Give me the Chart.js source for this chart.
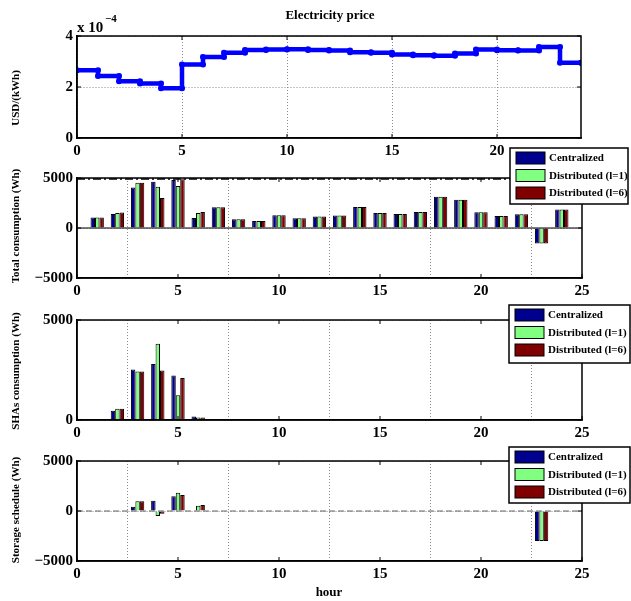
<!DOCTYPE html>
<html lang="en">
<head>
<meta charset="UTF-8">
<title>Electricity price</title>
<script src="https://cdn.jsdelivr.net/npm/chart.js"></script>
<style>
    body { margin: 0; background: #fff; width: 631px; height: 601px; position: relative; overflow: hidden; }
    canvas { position: absolute; left: 0; }
</style>
</head>
<body>
<canvas id="c1" width="631" height="160" style="top:0px"></canvas>
<canvas id="c2" width="631" height="160" style="top:140px"></canvas>
<canvas id="c3" width="631" height="142" style="top:300px"></canvas>
<canvas id="c4" width="631" height="159" style="top:442px"></canvas>
<script>
// price per hour, in 1e-4 USD/kWh (hour 0..24)
const priceHours = [0, 1, 2, 3, 4, 5, 6, 7, 8, 9, 10, 11, 12, 13, 14, 15, 16, 17, 18, 19, 20, 21, 22, 23, 24];
const price = [2.66, 2.43, 2.23, 2.14, 1.95, 2.88, 3.18, 3.34, 3.45, 3.47, 3.48, 3.45, 3.43, 3.36, 3.34, 3.27, 3.25, 3.23, 3.31, 3.47, 3.44, 3.43, 3.57, 2.95, 2.95];
const priceXTicks = [0, 5, 10, 15, 20];
const priceYTicks = [0, 2, 4];

// consumption per hour (Wh), hour 1..24
const hours = [1, 2, 3, 4, 5, 6, 7, 8, 9, 10, 11, 12, 13, 14, 15, 16, 17, 18, 19, 20, 21, 22, 23, 24];
const seriesNames = ['Centralized', 'Distributed (l=1)', 'Distributed (l=6)'];

const totalC  = [1050, 1410, 4060, 4630, 4800, 1010, 2080, 870, 700, 1280, 970, 1140, 1240, 2110, 1510, 1410, 1610, 3120, 2820, 1580, 1210, 1380, -1540, 1850];
const totalD1 = [1050, 1510, 4530, 4130, 4200, 1510, 2080, 870, 700, 1280, 970, 1140, 1240, 2110, 1510, 1410, 1610, 3120, 2820, 1580, 1210, 1380, -1540, 1850];
const totalD6 = [1050, 1540, 4530, 2990, 4870, 1610, 2080, 870, 700, 1280, 970, 1140, 1240, 2110, 1510, 1410, 1610, 3120, 2820, 1580, 1210, 1380, -1540, 1850];
const totalLimit = 4900;

const shaC  = [25, 460, 2530, 2800, 2220, 170, 0, 0, 0, 0, 0, 0, 0, 0, 0, 0, 0, 0, 0, 0, 0, 0, 0, 0];
const shaD1 = [25, 560, 2430, 3810, 1240, 120, 0, 0, 0, 0, 0, 0, 0, 0, 0, 0, 0, 0, 0, 0, 0, 0, 0, 0];
const shaD6 = [25, 560, 2420, 2470, 2100, 120, 0, 0, 0, 0, 0, 0, 0, 0, 0, 0, 0, 0, 0, 0, 0, 0, 0, 0];

const storC  = [0, 0, 430, 1030, 1470, 0, 0, 0, 0, 0, 0, 0, 0, 0, 0, 0, 0, 0, 0, 0, 0, 0, -3000, 0];
const storD1 = [0, 0, 970, -500, 1830, 530, 0, 0, 0, 0, 0, 0, 0, 0, 0, 0, 0, 0, 0, 0, 0, 0, -3000, 0];
const storD6 = [0, 0, 970, -270, 1600, 600, 0, 0, 0, 0, 0, 0, 0, 0, 0, 0, 0, 0, 0, 0, 0, 0, -3000, 0];

const xTicks = [0, 5, 10, 15, 20, 25];
const wideYTicks = [-5000, 0, 5000];
const shaYTicks = [0, 5000];

const barColors = ['#00008f', '#80ff80', '#800000'];
const FONT = "'Liberation Serif', 'Times New Roman', serif";
const tickFont = { family: FONT, size: 15, weight: 'bold' };

// frame, inner tick marks, baseline, legend box and labels (matlab look)
const matlabFrame = {
    id: 'matlabFrame',
    afterDatasetsDraw(chart, args, opts) {
        const a = chart.chartArea, ctx = chart.ctx;
        const sx = chart.scales.x, sy = chart.scales.y;
        ctx.save();
        if (opts.baseline) {
            const y0 = sy.getPixelForValue(0);
            ctx.strokeStyle = opts.baseline.color;
            ctx.lineWidth = opts.baseline.width;
            ctx.setLineDash(opts.baseline.dash);
            ctx.beginPath();
            ctx.moveTo(a.left, y0);
            ctx.lineTo(a.right, y0);
            ctx.stroke();
        }
        ctx.setLineDash([]);
        ctx.strokeStyle = '#000';
        ctx.lineWidth = 1;
        ctx.beginPath();
        sx.ticks.forEach(t => {
            const px = sx.getPixelForValue(t.value);
            ctx.moveTo(px, a.bottom); ctx.lineTo(px, a.bottom - 4);
            ctx.moveTo(px, a.top); ctx.lineTo(px, a.top + 4);
        });
        sy.ticks.forEach(t => {
            const py = sy.getPixelForValue(t.value);
            ctx.moveTo(a.left, py); ctx.lineTo(a.left + 4, py);
            ctx.moveTo(a.right, py); ctx.lineTo(a.right - 4, py);
        });
        ctx.stroke();
        ctx.lineWidth = 1.5;
        ctx.strokeRect(a.left, a.top, a.right - a.left, a.bottom - a.top);
        ctx.restore();
    },
    afterDraw(chart, args, opts) {
        const ctx = chart.ctx;
        ctx.save();
        ctx.fillStyle = '#000';
        (opts.texts || []).forEach(t => {
            ctx.save();
            ctx.font = 'bold ' + t.size + 'px ' + FONT;
            ctx.textAlign = t.align || 'center';
            ctx.textBaseline = t.baseline || 'middle';
            ctx.translate(t.x, t.y);
            if (t.rotate) ctx.rotate(-Math.PI / 2);
            ctx.fillText(t.text, 0, 0);
            ctx.restore();
        });
        if (opts.legend) {
            const L = opts.legend;
            const bars = chart.data.datasets.filter(d => d.type !== 'line');
            ctx.fillStyle = '#fff';
            ctx.fillRect(L.x, L.y, L.w, L.h);
            ctx.strokeStyle = '#000';
            ctx.lineWidth = 1.5;
            ctx.strokeRect(L.x, L.y, L.w, L.h);
            ctx.font = 'bold 11px ' + FONT;
            ctx.textAlign = 'left';
            ctx.textBaseline = 'middle';
            bars.forEach((d, i) => {
                const ry = L.y + 4 + i * 17.5;
                ctx.fillStyle = d.backgroundColor;
                ctx.fillRect(L.x + 6, ry, 29, 12);
                ctx.lineWidth = 1;
                ctx.strokeRect(L.x + 6, ry, 29, 12);
                ctx.fillStyle = '#000';
                ctx.fillText(d.label, L.x + 39, ry + 6.5);
            });
        }
        ctx.restore();
    }
};

function makeScales(xMax, xVals, yMin, yMax, yVals) {
    return {
        x: {
            type: 'linear', min: 0, max: xMax, offset: false,
            afterBuildTicks: s => { s.ticks = xVals.map(v => ({ value: v })); },
            afterFit: s => { s.height = 22; },
            grid: { color: '#8c8c8c', lineWidth: 1, drawTicks: false },
            border: { color: '#000', width: 1.5, dash: [1, 2] },
            ticks: { color: '#000', padding: 4, font: tickFont, maxRotation: 0, autoSkip: false,
                     callback: v => String(v) }
        },
        y: {
            type: 'linear', min: yMin, max: yMax,
            afterBuildTicks: s => { s.ticks = yVals.map(v => ({ value: v })); },
            afterFit: s => { s.width = 77; },
            grid: { color: '#8c8c8c', lineWidth: 1, drawTicks: false },
            border: { color: '#000', width: 1.5, dash: [1, 2] },
            ticks: { color: '#000', padding: 4, font: tickFont, autoSkip: false,
                     callback: v => String(v).replace('-', '\u2212') }
        }
    };
}

function barSets(arrs) {
    return arrs.map((arr, i) => ({
        label: seriesNames[i],
        data: hours.map((h, j) => ({ x: h, y: arr[j] })),
        backgroundColor: barColors[i],
        borderColor: '#000',
        borderWidth: 1,
        categoryPercentage: 0.66,
        barPercentage: 1
    }));
}

const baseOpts = (pad, scales, frame) => ({
    responsive: false,
    animation: false,
    layout: { padding: pad },
    scales: scales,
    plugins: { legend: { display: false }, tooltip: { enabled: false }, matlabFrame: frame }
});

// 1. electricity price
new Chart(document.getElementById('c1'), {
    type: 'line',
    data: {
        datasets: [{
            data: priceHours.map((h, i) => ({ x: h, y: price[i] })),
            borderColor: '#0000ff', backgroundColor: '#0000ff',
            borderWidth: 4.5, stepped: 'before',
            pointRadius: 3, pointBorderWidth: 0
        }, {
            // markers at the step corners
            data: priceHours.slice(1).map((h, i) => ({ x: h, y: price[i] })),
            showLine: false, backgroundColor: '#0000ff',
            pointRadius: 3, pointBorderWidth: 0
        }]
    },
    options: baseOpts({ top: 36, right: 50, left: 0, bottom: 0 },
        makeScales(24, priceXTicks, 0, 4, priceYTicks),
        { texts: [
            { text: 'Electricity price', x: 330, y: 16, size: 13 },
            { text: 'x 10', x: 77, y: 32, size: 15, align: 'left', baseline: 'alphabetic' },
            { text: '\u22124', x: 105, y: 22, size: 11, align: 'left', baseline: 'alphabetic' },
            { text: 'USD/(kWh)', x: 16, y: 98, size: 11, rotate: true }
        ] }),
    plugins: [matlabFrame]
});

// 2. total consumption
const totalSets = barSets([totalC, totalD1, totalD6]);
totalSets.push({
    type: 'line',
    data: [{ x: 0, y: totalLimit }, { x: 25, y: totalLimit }],
    borderColor: '#000', borderWidth: 1.5, borderDash: [8, 3, 2, 3],
    pointRadius: 0
});
new Chart(document.getElementById('c2'), {
    type: 'bar',
    data: { datasets: totalSets },
    options: baseOpts({ top: 38, right: 49, left: 0, bottom: 0 },
        makeScales(25, xTicks, -5000, 5000, wideYTicks),
        { baseline: { color: '#000', width: 1.2, dash: [] },
          legend: { x: 510, y: 8, w: 118, h: 56 },
          texts: [{ text: 'Total consumption (Wh)', x: 16, y: 86, size: 11, rotate: true }] }),
    plugins: [matlabFrame]
});

// 3. SHAs consumption
new Chart(document.getElementById('c3'), {
    type: 'bar',
    data: { datasets: barSets([shaC, shaD1, shaD6]) },
    options: baseOpts({ top: 20, right: 49, left: 0, bottom: 0 },
        makeScales(25, xTicks, 0, 5000, shaYTicks),
        { legend: { x: 509, y: 5, w: 121, h: 58 },
          texts: [{ text: 'SHAs consumption (Wh)', x: 16, y: 71, size: 11, rotate: true }] }),
    plugins: [matlabFrame]
});

// 4. storage schedule
new Chart(document.getElementById('c4'), {
    type: 'bar',
    data: { datasets: barSets([storC, storD1, storD6]) },
    options: baseOpts({ top: 19, right: 49, left: 0, bottom: 18 },
        makeScales(25, xTicks, -5000, 5000, wideYTicks),
        { baseline: { color: '#666', width: 1.2, dash: [6, 3] },
          legend: { x: 509, y: 5, w: 121, h: 56 },
          texts: [
            { text: 'Storage schedule (Wh)', x: 16, y: 68, size: 11, rotate: true },
            { text: 'hour', x: 329, y: 151, size: 13 }
        ] }),
    plugins: [matlabFrame]
});
</script>
</body>
</html>
